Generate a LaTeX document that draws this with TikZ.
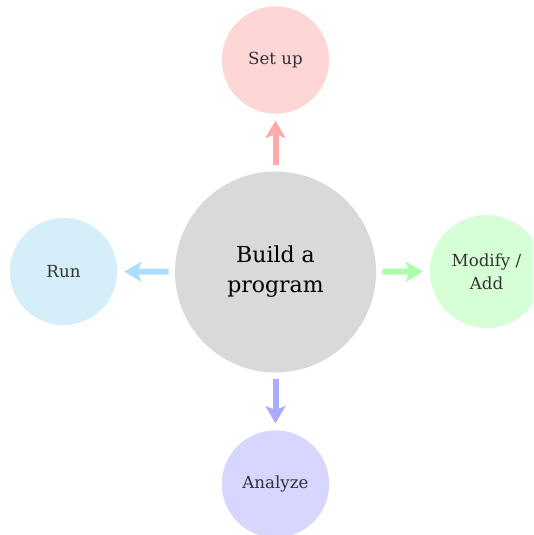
\documentclass[tikz,border=0pt]{standalone}
\usepackage{fontspec}
\setmainfont{DejaVu Serif}
\usepackage{tikz}
\usetikzlibrary{arrows.meta}
\definecolor{hub-fill}{RGB}{217,217,217}
\definecolor{setup-fill}{RGB}{255,214,214}
\definecolor{setup-line}{RGB}{255,170,170}
\definecolor{run-fill}{RGB}{212,238,250}
\definecolor{run-line}{RGB}{170,221,255}
\definecolor{mod-fill}{RGB}{214,255,214}
\definecolor{mod-line}{RGB}{170,255,170}
\definecolor{ana-fill}{RGB}{214,214,255}
\definecolor{ana-line}{RGB}{170,170,255}
\tikzset{
  hub/.style={circle, fill=hub-fill, minimum size=150.75pt, inner sep=0pt, align=center, font=\fontsize{16.5}{22.5}\selectfont, text=black},
  stage/.style={circle, minimum size=80.5pt, inner sep=0pt, align=center, font=\fontsize{12.5}{17}\selectfont, text=black!80},
  spoke/.style={-{Stealth[length=13pt, width=15pt, inset=3pt]}, line width=4.5pt, shorten <=4.5pt, shorten >=5pt},
}

\begin{document}
\begin{tikzpicture}[x=0.75pt, y=-0.75pt]
  \clip (0, 0) rectangle (533, 535);

  \node[hub] (prog) at (275.5, 272) {Build a\\program};

  \node[stage, fill=setup-fill]                       (setup)  at (275.5, 60)  {Set up};
  \node[stage, fill=run-fill]                         (run)    at (63.5, 271.5) {Run};
  \node[stage, fill=mod-fill, minimum size=84.75pt]   (modify) at (486.5, 271.5) {Modify /\\Add};
  \node[stage, fill=ana-fill]                         (analyze) at (275.5, 484) {Analyze};

  \draw[spoke, setup-line] (prog) -- (setup);
  \draw[spoke, run-line  ] (prog) -- (run);
  \draw[spoke, mod-line  ] (prog) -- (modify);
  \draw[spoke, ana-line  ] (prog) -- (analyze);
\end{tikzpicture}
\end{document}
